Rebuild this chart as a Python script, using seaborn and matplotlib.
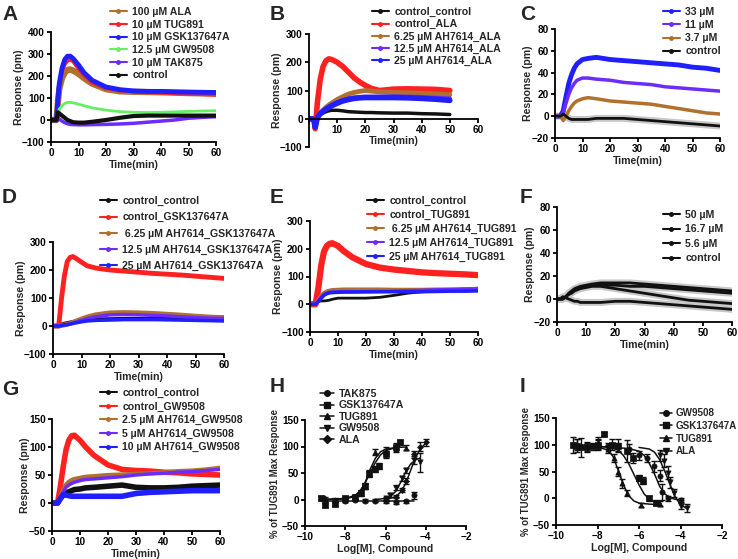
import numpy as np
import pandas as pd
import matplotlib
matplotlib.use("Agg")
import matplotlib.pyplot as plt
import seaborn as sns
from matplotlib.lines import Line2D

sns.set_theme(style="ticks")
plt.rcParams['font.family'] = ['Liberation Sans', 'DejaVu Sans']
plt.rcParams['font.weight'] = 'bold'
plt.rcParams['axes.labelweight'] = 'bold'

# ---------------- colours ----------------
BROWN = "#B0702E"
RED = "#FF2020"
BLUE = "#1F1FFF"
VIOLET = "#6B2CFF"
GREEN = "#66EE66"
BLACK = "#111111"

# ---------------- Panel A ----------------
tA = [0, 1, 2, 2.5, 3, 4, 5, 6, 7, 8, 10, 12, 15, 20, 25, 30, 35, 40, 45, 50, 55, 60]
A_ALA = [0, 0, 0, 80, 140, 190, 215, 228, 230, 225, 210, 190, 165, 140, 130, 128, 127, 126, 124, 122, 121, 120]
A_TUG = [0, 0, 0, 90, 160, 225, 255, 270, 275, 268, 235, 205, 170, 145, 135, 130, 127, 125, 122, 120, 118, 115]
A_GSK = [0, 0, 0, 90, 165, 235, 275, 290, 290, 280, 250, 215, 180, 150, 138, 132, 130, 130, 128, 127, 126, 125]
A_GW = [np.nan, np.nan, 20, 35, 50, 65, 75, 80, 80, 78, 72, 65, 55, 45, 38, 35, 34, 35, 37, 39, 41, 42]
A_TAK = [np.nan, np.nan, 20, 10, 5, -5, -12, -17, -20, -21, -22, -22, -21, -20, -18, -15, -10, -5, 0, 8, 12, 15]
A_CTRL = [0, 0, 0, 35, 30, 20, 10, 0, -5, -10, -12, -12, -8, 0, 10, 18, 20, 20, 20, 20, 20, 20]
A_labels = ["100 µM ALA", "10 µM TUG891", "10 µM GSK137647A", "12.5 µM GW9508", "10 µM TAK875", "control"]

# ---------------- Panel B ----------------
tB = [0, 1, 1.8, 2.2, 3, 4, 5, 6, 7, 8, 10, 12, 14, 16, 18, 20, 22, 25, 30, 35, 40, 45, 50]
B_CC = [0, 0, 0, -25, 5, 15, 20, 25, 28, 30, 30, 28, 25, 24, 23, 22, 22, 21, 20, 20, 18, 17, 15]
B_CALA = [0, 0, -5, -35, 60, 140, 185, 205, 212, 210, 200, 185, 165, 145, 130, 118, 108, 100, 105, 106, 105, 104, 100]
B_625 = [0, 0, -5, -30, 5, 20, 30, 40, 48, 55, 68, 78, 87, 93, 97, 100, 98, 95, 93, 92, 90, 88, 85]
B_125 = [0, 0, -5, -30, 5, 18, 28, 35, 42, 48, 58, 66, 72, 75, 77, 78, 78, 78, 79, 78, 77, 74, 72]
B_25 = [0, 0, -5, -30, 5, 18, 27, 34, 40, 46, 55, 63, 68, 72, 74, 75, 75, 75, 75, 74, 72, 69, 65]
B_labels = ["control_control", "control_ALA", "6.25 µM AH7614_ALA", "12.5 µM AH7614_ALA", "25 µM AH7614_ALA"]

# ---------------- Panel C ----------------
tC = [0, 1, 2, 3, 4, 5, 6, 7, 8, 10, 12, 15, 20, 25, 30, 35, 40, 45, 50, 55, 60]
C_33 = [0, 0, 0, 5, 18, 30, 38, 44, 48, 52, 53, 54, 52, 51, 50, 49, 48, 47, 45, 44, 42]
C_11 = [0, 0, 0, 3, 12, 20, 26, 30, 33, 35, 35, 34, 33, 31, 30, 29, 27, 26, 25, 24, 23]
C_37 = [0, 0, 0, -4, 0, 5, 9, 12, 14, 16, 17, 16, 14, 13, 12, 11, 9, 7, 5, 3, 2]
C_CTRL = [0, 0, 0, 2, 0, -2, -3, -3, -3, -3, -3, -2, -2, -2, -3, -4, -5, -6, -7, -8, -9]
C_labels = ["33 µM", "11 µM", "3.7 µM", "control"]

# ---------------- Panel D ----------------
tD = [0, 1, 2, 3, 4, 5, 6, 7, 8, 10, 12, 15, 20, 25, 30, 35, 40, 45, 50, 55, 60]
D_CC = [0, 0, 0, 5, 8, 10, 12, 14, 16, 20, 22, 23, 24, 25, 25, 25, 26, 27, 28, 29, 30]
D_CGSK = [0, 0, 0, 100, 180, 230, 245, 248, 242, 228, 215, 207, 200, 196, 192, 188, 185, 182, 178, 174, 170]
D_625 = [0, 0, 0, 2, 4, 6, 9, 13, 17, 25, 32, 40, 47, 48, 47, 45, 42, 39, 35, 32, 30]
D_125 = [0, 0, 0, 2, 4, 5, 8, 11, 14, 20, 26, 33, 40, 41, 40, 38, 36, 33, 30, 28, 27]
D_25 = [0, 0, 0, 2, 4, 5, 7, 9, 11, 15, 18, 20, 22, 23, 23, 23, 22, 21, 20, 19, 18]
D_labels = ["control_control", "control_GSK137647A", " 6.25 µM AH7614_GSK137647A",
            "12.5 µM AH7614_GSK137647A", "25 µM AH7614_GSK137647A"]

# ---------------- Panel E ----------------
tE = [0, 1, 2, 3, 4, 5, 6, 7, 8, 10, 12, 15, 20, 25, 30, 35, 40, 45, 50, 55, 60]
E_CC = [0, 0, 0, 10, 12, 12, 13, 15, 18, 22, 22, 22, 22, 25, 32, 40, 45, 48, 52, 55, 58]
E_CTUG = [0, 0, 0, 60, 140, 190, 210, 218, 220, 210, 192, 170, 145, 132, 125, 120, 115, 112, 110, 108, 105]
E_625 = [0, 0, 0, 15, 30, 40, 46, 49, 51, 52, 53, 53, 53, 53, 52, 52, 52, 53, 53, 54, 55]
E_125 = [0, 0, 0, 12, 25, 35, 40, 43, 44, 45, 45, 45, 45, 46, 47, 49, 50, 52, 53, 54, 55]
E_25 = [0, 0, 0, 10, 22, 32, 38, 41, 42, 43, 44, 44, 45, 45, 45, 45, 45, 46, 47, 47, 48]
E_labels = ["control_control", "control_TUG891", " 6.25 µM AH7614_TUG891",
            "12.5 µM AH7614_TUG891", "25 µM AH7614_TUG891"]

# ---------------- Panel F ----------------
tF = [0, 1, 2, 3, 4, 5, 6, 7, 8, 10, 12, 15, 20, 25, 30, 35, 40, 45, 50, 55, 60]
F_50 = [0, 0, 0, 2, 5, 7, 9, 10, 11, 12, 13, 14, 14, 14, 13, 12, 11, 10, 9, 8, 7]
F_167 = [0, 0, 0, 2, 4, 6, 8, 9, 10, 11, 12, 12, 12, 11, 11, 10, 9, 8, 7, 6, 5]
F_56 = [0, 0, 0, 2, 4, 5, 7, 8, 9, 10, 11, 11, 9, 7, 5, 3, 1, -1, -2, -3, -4]
F_CTRL = [0, 0, 2, 1, 0, -1, -2, -2, -3, -3, -3, -3, -2, -2, -3, -4, -5, -6, -7, -8, -9]
F_labels = ["50 µM", "16.7 µM", "5.6 µM", "control"]

# ---------------- Panel G ----------------
tG = [0, 1, 2, 3, 4, 5, 6, 7, 8, 10, 12, 15, 20, 25, 30, 35, 40, 45, 50, 55, 60]
G_CC = [0, 0, 0, 8, 14, 18, 20, 22, 24, 25, 27, 28, 30, 32, 28, 27, 27, 28, 30, 31, 32]
G_CGW = [0, 0, 0, 30, 65, 95, 112, 120, 121, 112, 100, 85, 68, 60, 58, 57, 55, 54, 52, 51, 50]
G_25 = [0, 0, 0, 12, 25, 33, 38, 41, 43, 45, 47, 48, 50, 51, 52, 53, 55, 57, 58, 60, 63]
G_5 = [0, 0, 0, 10, 20, 28, 32, 35, 37, 40, 42, 43, 45, 47, 50, 52, 53, 55, 56, 58, 60]
G_10 = [0, 0, 0, 8, 15, 14, 13, 12, 12, 12, 12, 12, 12, 12, 17, 19, 20, 21, 22, 22, 22]
G_labels = ["control_control", "control_GW9508", "2.5 µM AH7614_GW9508",
            "5 µM AH7614_GW9508", "10 µM AH7614_GW9508"]

# ---------------- Panel H (agonist dose-response) ----------------
H_names = ["TAK875", "GSK137647A", "TUG891", "GW9508", "ALA"]
H_TAK_x = [-9.0, -8.5, -8.0, -7.5, -7.0, -6.5, -6.0, -5.5, -5.0, -4.6]
H_TAK_y = [-3, -2, -2, 0, -2, -2, -3, -5, -3, 8]
H_TAK_e = [3, 3, 3, 3, 3, 3, 3, 3, 3, 7]
H_GSK_x = [-9.2, -9.0, -8.5, -8.0, -7.5, -7.2, -7.0, -6.8, -6.5, -6.3, -6.0, -5.5, -5.3]
H_GSK_y = [3, -10, -8, 2, 5, 12, 25, 48, 58, 63, 85, 100, 108]
H_GSK_e = [3, 4, 4, 3, 4, 5, 6, 6, 6, 6, 7, 6, 5]
H_TUG_x = [-9.0, -8.5, -8.0, -7.5, -7.0, -6.8, -6.5, -6.0, -5.5, -5.0]
H_TUG_y = [2, 0, 0, 5, 25, 50, 90, 92, 95, 98]
H_TUG_e = [3, 3, 3, 4, 5, 5, 6, 7, 6, 5]
H_GW_x = [-6.0, -5.8, -5.5, -5.2, -5.0, -4.6, -4.3]
H_GW_y = [2, 8, 22, 40, 55, 75, 70]
H_GW_e = [3, 4, 5, 5, 5, 8, 18]
H_ALA_x = [-6.0, -5.5, -5.2, -5.0, -4.6, -4.3, -4.0]
H_ALA_y = [0, 5, 18, 35, 85, 100, 108]
H_ALA_e = [3, 3, 4, 5, 6, 8, 7]
# fitted curves
H_TAKfit_x = [-9.2, -4.6]
H_TAKfit_y = [-3, -3]
H_GSKfit_x = [-9.2, -8.0, -7.5, -7.25, -7.0, -6.75, -6.5, -6.25, -6.0, -5.5, -5.3]
H_GSKfit_y = [0, 2, 8, 17, 32, 52, 70, 84, 92, 98, 100]
H_TUGfit_x = [-9.0, -8.0, -7.5, -7.25, -7.0, -6.75, -6.5, -6.25, -6.0, -5.5, -5.0]
H_TUGfit_y = [0, 1, 6, 15, 33, 58, 78, 90, 95, 98, 99]
H_GWfit_x = [-6.5, -6.0, -5.75, -5.5, -5.25, -5.0, -4.75, -4.5, -4.3]
H_GWfit_y = [0, 2, 6, 15, 32, 52, 67, 75, 78]
H_ALAfit_x = [-6.0, -5.5, -5.25, -5.0, -4.75, -4.5, -4.25, -4.0]
H_ALAfit_y = [0, 5, 14, 30, 55, 80, 97, 106]

# ---------------- Panel I (antagonist inhibition) ----------------
I_names = ["GW9508", "GSK137647A", "TUG891", "ALA"]
I_GW_x = [-8.0, -7.5, -7.0, -6.5, -6.0, -5.6, -5.3, -5.0, -4.9, -4.6, -4.0]
I_GW_y = [100, 98, 96, 92, 80, 75, 60, 42, 12, 0, -3]
I_GW_e = [8, 6, 8, 10, 8, 8, 10, 10, 15, 5, 4]
I_GSK_x = [-9.2, -9.0, -8.8, -8.5, -8.2, -8.0, -7.7, -7.3, -7.0, -6.6, -6.3, -6.0, -5.8, -5.5, -5.2]
I_GSK_y = [100, 98, 95, 95, 97, 100, 120, 100, 98, 88, 75, 38, 33, 0, -8]
I_GSK_e = [15, 12, 18, 8, 6, 10, 4, 10, 12, 20, 10, 6, 6, 5, 5]
I_TUG_x = [-9.0, -8.5, -8.0, -7.5, -7.2, -7.0, -6.8, -6.6, -5.9, -5.0]
I_TUG_y = [100, 97, 105, 92, 75, 50, 28, 10, -12, -10]
I_TUG_e = [10, 8, 10, 8, 8, 8, 8, 6, 4, 4]
I_ALA_x = [-5.0, -4.8, -4.6, -4.5, -4.3, -4.0, -3.7]
I_ALA_y = [80, 70, 48, 30, 10, -15, -18]
I_ALA_e = [10, 12, 12, 10, 8, 6, 8]
I_GWfit_x = [-8.0, -6.5, -6.0, -5.75, -5.5, -5.25, -5.0, -4.75, -4.5, -4.25, -4.0]
I_GWfit_y = [97, 93, 88, 80, 65, 45, 22, 8, 1, -2, -3]
I_GSKfit_x = [-9.2, -7.5, -7.0, -6.75, -6.5, -6.25, -6.0, -5.75, -5.5, -5.25, -5.0]
I_GSKfit_y = [98, 96, 90, 80, 65, 45, 25, 8, -2, -7, -9]
I_TUGfit_x = [-9.2, -8.0, -7.5, -7.25, -7.0, -6.75, -6.5, -6.25, -6.0, -5.5, -5.0]
I_TUGfit_y = [97, 96, 90, 78, 52, 25, 5, -5, -9, -11, -12]
I_ALAfit_x = [-6.0, -5.5, -5.25, -5.0, -4.75, -4.5, -4.25, -4.0, -3.75]
I_ALAfit_y = [95, 92, 86, 72, 50, 25, 2, -12, -18]

# ======================================================
W, H = 738, 559
fig = plt.figure(figsize=(W / 100, H / 100), dpi=100)

TICK_FS = 7.2
LAB_FS = 7.6
LEG_FS = 7.6


def add_ax(x0, x1, ytop, ybot):
    return fig.add_axes([x0 / W, 1 - ybot / H, (x1 - x0) / W, (ybot - ytop) / H])


def style(ax, xlim, ylim, xticks, yticks, xlabel, ylabel, xzero=False, ylab_fs=LAB_FS, ypad=-1.0):
    ax.set_xlim(*xlim)
    ax.set_ylim(*ylim)
    ax.set_xticks(xticks)
    ax.set_yticks(yticks)
    if xzero:
        ax.spines['bottom'].set_position(('data', 0))
        ax.set_xticklabels(['' if v == 0 else str(v) for v in xticks])
    ax.set_xlabel(xlabel, fontsize=LAB_FS, fontweight='bold', labelpad=1)
    ax.set_ylabel(ylabel, fontsize=ylab_fs, fontweight='bold', labelpad=ypad)
    for s in ['top', 'right']:
        ax.spines[s].set_visible(False)
    for s in ['left', 'bottom']:
        ax.spines[s].set_linewidth(1.3)
        ax.spines[s].set_color('black')
    ax.tick_params(axis='both', length=3, width=1.3, pad=1.5, labelsize=TICK_FS, colors='black')
    for lab in ax.get_xticklabels() + ax.get_yticklabels():
        lab.set_fontweight('bold')
    ax.set_facecolor('none')


def legend(ax, labels, colors, markers, x, y, spacing, ms=2.5, lw=1.5, hl=1.6, tp=0.5, fs=LEG_FS):
    handles = [Line2D([], [], color=c, lw=lw, marker=m, ms=ms) for c, m in zip(colors, markers)]
    ax.legend(handles, labels, loc='upper left', bbox_to_anchor=(x / W, 1 - y / H),
              bbox_transform=fig.transFigure, frameon=False,
              prop={'size': fs, 'weight': 'bold'}, handlelength=hl,
              handletextpad=tp, labelspacing=spacing, borderpad=0, borderaxespad=0)


def kinetic(ax, t, series, colors, widths, band=None):
    for i, (vals, c, w) in enumerate(zip(series, colors, widths)):
        df = pd.DataFrame({'t': t, 'v': vals}).dropna()
        if band is not None and band[i]:
            sns.lineplot(data=df, x='t', y='v', ax=ax, color='#C8C8C8', lw=w + 3, legend=False, zorder=1)
        sns.lineplot(data=df, x='t', y='v', ax=ax, color=c, lw=w, legend=False, zorder=2)


def letter(x, y, s):
    fig.text(x / W, 1 - y / H, s, fontsize=15, fontweight='bold', va='top', ha='left')


TIME_X = [0, 10, 20, 30, 40, 50, 60]

# ---- A ----
axA = add_ax(51, 216, 32, 142)
kinetic(axA, tA, [A_ALA, A_TUG, A_GSK, A_GW, A_TAK, A_CTRL],
        [BROWN, RED, BLUE, GREEN, VIOLET, BLACK], [4.5, 3, 3.5, 2, 2.5, 3])
style(axA, (0, 60), (-100, 400), TIME_X, [-100, 0, 100, 200, 300, 400], 'Time(min)', 'Response (pm)')
legend(axA, A_labels, [BROWN, RED, BLUE, GREEN, VIOLET, BLACK], ['o'] * 6, 110, 7, 0.25)
letter(2, 5, 'A')

# ---- B ----
axB = add_ax(309, 478, 34, 147)
kinetic(axB, tB, [B_CC, B_CALA, B_625, B_125, B_25],
        [BLACK, RED, BROWN, VIOLET, BLUE], [2.5, 4, 3.5, 3, 4])
style(axB, (0, 60), (-100, 300), TIME_X, [-100, 0, 100, 200, 300], 'Time(min)', 'Response (pm)', xzero=True)
legend(axB, B_labels, [BLACK, RED, BROWN, VIOLET, BLUE], ['o'] * 5, 372, 7, 0.2)
letter(270, 5, 'B')

# ---- C ----
axC = add_ax(555, 720, 29, 138)
kinetic(axC, tC, [C_33, C_11, C_37, C_CTRL], [BLUE, VIOLET, BROWN, BLACK], [3.5, 2.5, 2.5, 2],
        band=[False, False, False, True])
style(axC, (0, 60), (-20, 80), TIME_X, [-20, 0, 20, 40, 60, 80], 'Time(min)', 'Response (pm)')
legend(axC, C_labels, [BLUE, VIOLET, BROWN, BLACK], ['o'] * 4, 663, 7, 0.3)
letter(520, 5, 'C')

# ---- D ----
axD = add_ax(53, 224, 242, 354)
kinetic(axD, tD, [D_CC, D_CGSK, D_625, D_125, D_25],
        [BLACK, RED, BROWN, VIOLET, BLUE], [3, 3.5, 3.5, 2.5, 2.5])
style(axD, (0, 60), (-100, 300), TIME_X, [-100, 0, 100, 200, 300], 'Time(min)', 'Response (pm)')
legend(axD, D_labels, [BLACK, RED, BROWN, VIOLET, BLUE], ['o'] * 5, 100, 196, 0.58)
letter(2, 188, 'D')

# ---- E ----
axE = add_ax(310, 478, 221, 332)
kinetic(axE, tE, [E_CC, E_CTUG, E_625, E_125, E_25],
        [BLACK, RED, BROWN, VIOLET, BLUE], [2, 4.5, 3, 2.5, 2.5])
style(axE, (0, 60), (-100, 300), TIME_X, [-100, 0, 100, 200, 300], 'Time(min)', 'Response (pm)')
legend(axE, E_labels, [BLACK, RED, BROWN, VIOLET, BLUE], ['o'] * 5, 367, 196, 0.36)
letter(270, 188, 'E')

# ---- F ----
axF = add_ax(557, 732, 207, 322)
kinetic(axF, tF, [F_50, F_167, F_56, F_CTRL], [BLACK] * 4, [2, 2, 2, 2],
        band=[True, True, True, True])
style(axF, (0, 60), (-20, 80), TIME_X, [-20, 0, 20, 40, 60, 80], 'Time(min)', 'Response (pm)')
legend(axF, F_labels, [BLACK] * 4, ['o'] * 4, 663, 210, 0.42)
letter(520, 188, 'F')

# ---- G ----
axG = add_ax(52, 220, 419, 531)
kinetic(axG, tG, [G_CC, G_CGW, G_25, G_5, G_10],
        [BLACK, RED, BROWN, VIOLET, BLUE], [4, 4, 3, 2.5, 4])
style(axG, (0, 60), (-50, 150), TIME_X, [-50, 0, 50, 100, 150], 'Time(min)', 'Response (pm)')
legend(axG, G_labels, [BLACK, RED, BROWN, VIOLET, BLUE], ['o'] * 5, 100, 388, 0.33)
letter(2, 380, 'G')

# ---- H ----
axH = add_ax(305, 466, 420, 526)
H_pts = [(H_TAK_x, H_TAK_y, H_TAK_e, 'o'), (H_GSK_x, H_GSK_y, H_GSK_e, 's'),
         (H_TUG_x, H_TUG_y, H_TUG_e, '^'), (H_GW_x, H_GW_y, H_GW_e, 'v'),
         (H_ALA_x, H_ALA_y, H_ALA_e, 'D')]
H_fits = [(H_TAKfit_x, H_TAKfit_y), (H_GSKfit_x, H_GSKfit_y), (H_TUGfit_x, H_TUGfit_y),
          (H_GWfit_x, H_GWfit_y), (H_ALAfit_x, H_ALAfit_y)]
for (fx, fy) in H_fits:
    sns.lineplot(x=fx, y=fy, ax=axH, color=BLACK, lw=1.1, legend=False)
for (px, py, pe, m) in H_pts:
    axH.errorbar(px, py, yerr=pe, fmt='none', ecolor=BLACK, elinewidth=1, capsize=2, capthick=1)
    sns.scatterplot(x=px, y=py, ax=axH, color=BLACK, marker=m, s=14 if m != 'D' else 9,
                    edgecolor=BLACK, linewidth=0.5, legend=False, zorder=3)
style(axH, (-10, -2), (-50, 150), [-10, -8, -6, -4, -2], [-50, 0, 50, 100, 150],
      'Log[M], Compound', '% of TUG891 Max Response', ylab_fs=6.9, ypad=1.5)
legend(axH, H_names, [BLACK] * 5, ['o', 's', '^', 'v', 'D'], 320, 389, 0.14, ms=4, lw=1.1, hl=1.3)
letter(270, 377, 'H')

# ---- I ----
axI = add_ax(556, 722, 418, 525)
I_pts = [(I_GW_x, I_GW_y, I_GW_e, 'o'), (I_GSK_x, I_GSK_y, I_GSK_e, 's'),
         (I_TUG_x, I_TUG_y, I_TUG_e, '^'), (I_ALA_x, I_ALA_y, I_ALA_e, 'v')]
I_fits = [(I_GWfit_x, I_GWfit_y), (I_GSKfit_x, I_GSKfit_y), (I_TUGfit_x, I_TUGfit_y),
          (I_ALAfit_x, I_ALAfit_y)]
for (fx, fy) in I_fits:
    sns.lineplot(x=fx, y=fy, ax=axI, color=BLACK, lw=1.1, legend=False)
for (px, py, pe, m) in I_pts:
    axI.errorbar(px, py, yerr=pe, fmt='none', ecolor=BLACK, elinewidth=1, capsize=2, capthick=1)
    sns.scatterplot(x=px, y=py, ax=axI, color=BLACK, marker=m, s=14,
                    edgecolor=BLACK, linewidth=0.5, legend=False, zorder=3)
style(axI, (-10, -2), (-50, 150), [-10, -8, -6, -4, -2], [-50, 0, 50, 100, 150],
      'Log[M], Compound', '% of TUG891 Max Response', ylab_fs=6.9, ypad=1.5)
legend(axI, I_names, [BLACK] * 4, ['o', 's', '^', 'v'], 660, 408, 0.28, ms=4, lw=1.1, hl=1.2, tp=0.4, fs=7.1)
letter(520, 377, 'I')

fig.savefig("out.png", dpi=100)
